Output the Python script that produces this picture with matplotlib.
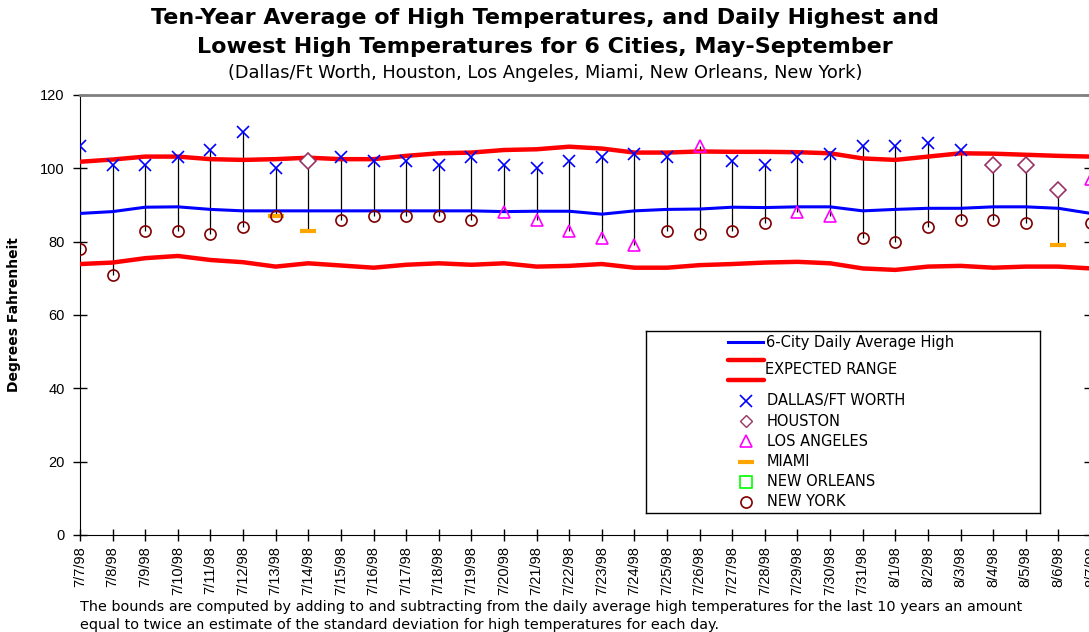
import numpy as np
import matplotlib
matplotlib.use("Agg")
import matplotlib.pyplot as plt

nan = np.nan

dates = ["7/7/98", "7/8/98", "7/9/98", "7/10/98", "7/11/98", "7/12/98", "7/13/98",
         "7/14/98", "7/15/98", "7/16/98", "7/17/98", "7/18/98", "7/19/98", "7/20/98",
         "7/21/98", "7/22/98", "7/23/98", "7/24/98", "7/25/98", "7/26/98", "7/27/98",
         "7/28/98", "7/29/98", "7/30/98", "7/31/98", "8/1/98", "8/2/98", "8/3/98",
         "8/4/98", "8/5/98", "8/6/98", "8/7/98"]

avg_high = [87.7, 88.2, 89.4, 89.5, 88.8, 88.4, 88.4, 88.4, 88.4, 88.4, 88.4, 88.4,
            88.4, 88.2, 88.3, 88.3, 87.5, 88.4, 88.8, 88.9, 89.4, 89.3, 89.5, 89.5,
            88.4, 88.8, 89.1, 89.1, 89.5, 89.5, 89.1, 87.7]
upper = [101.8, 102.4, 103.2, 103.2, 102.5, 102.3, 102.5, 102.9, 102.5, 102.5, 103.4,
         104.1, 104.3, 105.0, 105.2, 105.9, 105.4, 104.3, 104.3, 104.6, 104.5, 104.5,
         104.4, 104.1, 102.7, 102.3, 103.2, 104.1, 104.0, 103.7, 103.4, 103.2]
lower = [73.9, 74.3, 75.5, 76.1, 75.0, 74.4, 73.2, 74.1, 73.5, 72.9, 73.7, 74.1, 73.7,
         74.1, 73.2, 73.4, 73.9, 72.9, 72.9, 73.6, 73.9, 74.3, 74.5, 74.1, 72.7, 72.3,
         73.2, 73.4, 72.9, 73.2, 73.2, 72.7]

dallas = [106, 101, 101, 103, 105, 110, 100, nan, 103, 102, 102, 101, 103, 101, 100,
          102, 103, 104, 103, nan, 102, 101, 103, 104, 106, 106, 107, 105, nan, nan,
          nan, nan]
houston = [nan] * 7 + [102] + [nan] * 20 + [101, 101, 94, nan]
los_angeles = [nan] * 13 + [88, 86, 83, 81, 79, nan, 106, nan, nan, 88, 87] + [nan] * 7 + [97]
miami = [nan] * 6 + [87, 83] + [nan] * 22 + [79, nan]
new_orleans = [nan] * 32
new_york = [78, 71, 83, 83, 82, 84, 87, nan, 86, 87, 87, 87, 86, nan, nan, nan, nan,
            nan, 83, 82, 83, 85, nan, nan, 81, 80, 84, 86, 86, 85, nan, 85]

W, H = 1089, 632
plt.rcParams["font.family"] = ["Liberation Sans", "DejaVu Sans"]
wide = "DejaVu Sans"   # wider face stands in for the spaced-out text of the original

fig = plt.figure(figsize=(W / 100, H / 100), dpi=100)
ax = fig.add_axes([80 / W, 1 - 535 / H, (1091 - 80) / W, 440 / H])

x = np.arange(len(dates))
cities = np.array([dallas, houston, los_angeles, miami, new_orleans, new_york], dtype=float)
hi = np.nanmax(cities, axis=0)
lo = np.nanmin(cities, axis=0)

# daily range stems
ax.vlines(x, lo, hi, color="black", linewidth=0.9, zorder=2)

ax.plot(x, upper, color="red", linewidth=3.2, zorder=3)
ax.plot(x, lower, color="red", linewidth=3.2, zorder=3)
ax.plot(x, avg_high, color="blue", linewidth=2.2, zorder=3)

ax.plot(x, dallas, "x", color="blue", markersize=8, mew=1.2, zorder=4)
ax.plot(x, houston, "D", mfc="white", mec="#993366", markersize=8, mew=1.2, zorder=4)
ax.plot(x, los_angeles, "^", mfc="none", mec="magenta", markersize=8, mew=1.2, zorder=4)
ax.plot(x, miami, "_", color="orange", markersize=12, mew=3, zorder=4)
ax.plot(x, new_orleans, "s", mfc="none", mec="lime", markersize=8, zorder=4)
ax.plot(x, new_york, "o", mfc="none", mec="#800000", markersize=8, mew=1.2, zorder=4)

ax.set_xlim(0, 31)
ax.set_ylim(0, 120)
ax.set_yticks(range(0, 121, 20))
ax.set_xticks(x)
ax.set_xticklabels(dates, rotation=90, fontsize=10.5)
ax.tick_params(axis="y", labelsize=10.5, direction="inout", length=10, width=1, right=True, pad=6)
ax.tick_params(axis="x", direction="inout", length=8, width=1, pad=4)
ax.spines["top"].set_color("#808080")
ax.spines["top"].set_linewidth(2)
ax.spines["right"].set_color("#808080")
ax.set_ylabel("Degrees Fahrenheit", fontsize=10, fontweight="bold", family=wide, labelpad=14)

fig.text(545 / W, 1 - 18 / H, "Ten-Year Average of High Temperatures, and Daily Highest and",
         ha="center", va="center", fontsize=16, fontweight="bold", family=wide)
fig.text(545 / W, 1 - 47 / H, "Lowest High Temperatures for 6 Cities, May-September",
         ha="center", va="center", fontsize=16, fontweight="bold", family=wide)
fig.text(545 / W, 1 - 73 / H,
         "(Dallas/Ft Worth, Houston, Los Angeles, Miami, New Orleans, New York)",
         ha="center", va="center", fontsize=12.8, family=wide)
fig.text(80 / W, 1 - 607 / H,
         "The bounds are computed by adding to and subtracting from the daily average "
         "high temperatures for the last 10 years an amount",
         ha="left", va="center", fontsize=10.4, family=wide)
fig.text(80 / W, 1 - 625 / H,
         "equal to twice an estimate of the standard deviation for high temperatures for each day.",
         ha="left", va="center", fontsize=10.4, family=wide)

# legend box drawn in pixel coordinates
lx0, lx1, ly0, ly1 = 646, 1040, 331, 513
lg = fig.add_axes([lx0 / W, 1 - ly1 / H, (lx1 - lx0) / W, (ly1 - ly0) / H])
lg.set_xlim(lx0, lx1)
lg.set_ylim(ly1, ly0)
lg.set_xticks([])
lg.set_yticks([])
for s in lg.spines.values():
    s.set_linewidth(1)
lg.plot([728, 763], [342, 342], color="blue", linewidth=2.2)
lg.text(766, 342, "6-City Daily Average High", va="center", fontsize=10.5, family=wide)
lg.plot([728, 764], [360, 360], color="red", linewidth=3.2, solid_capstyle="round")
lg.plot([728, 764], [380, 380], color="red", linewidth=3.2, solid_capstyle="round")
lg.text(765, 370, "EXPECTED RANGE", va="center", fontsize=10.5, family=wide)

entries = [("DALLAS/FT WORTH", dict(marker="x", color="blue", ms=8, mew=1.2)),
           ("HOUSTON", dict(marker="D", mfc="white", mec="#993366", ms=6, mew=1)),
           ("LOS ANGELES", dict(marker="^", mfc="none", mec="magenta", ms=8, mew=1.2)),
           ("MIAMI", dict(marker="_", color="orange", ms=11, mew=3)),
           ("NEW ORLEANS", dict(marker="s", mfc="none", mec="lime", ms=8, mew=1.2)),
           ("NEW YORK", dict(marker="o", mfc="none", mec="#800000", ms=8, mew=1.2))]
for i, (name, style) in enumerate(entries):
    yy = 401 + i * 20.2
    lg.plot([746], [yy], linestyle="none", **style)
    lg.text(767, yy, name, va="center", fontsize=10.5, family=wide)

fig.savefig("out.png", dpi=100)
